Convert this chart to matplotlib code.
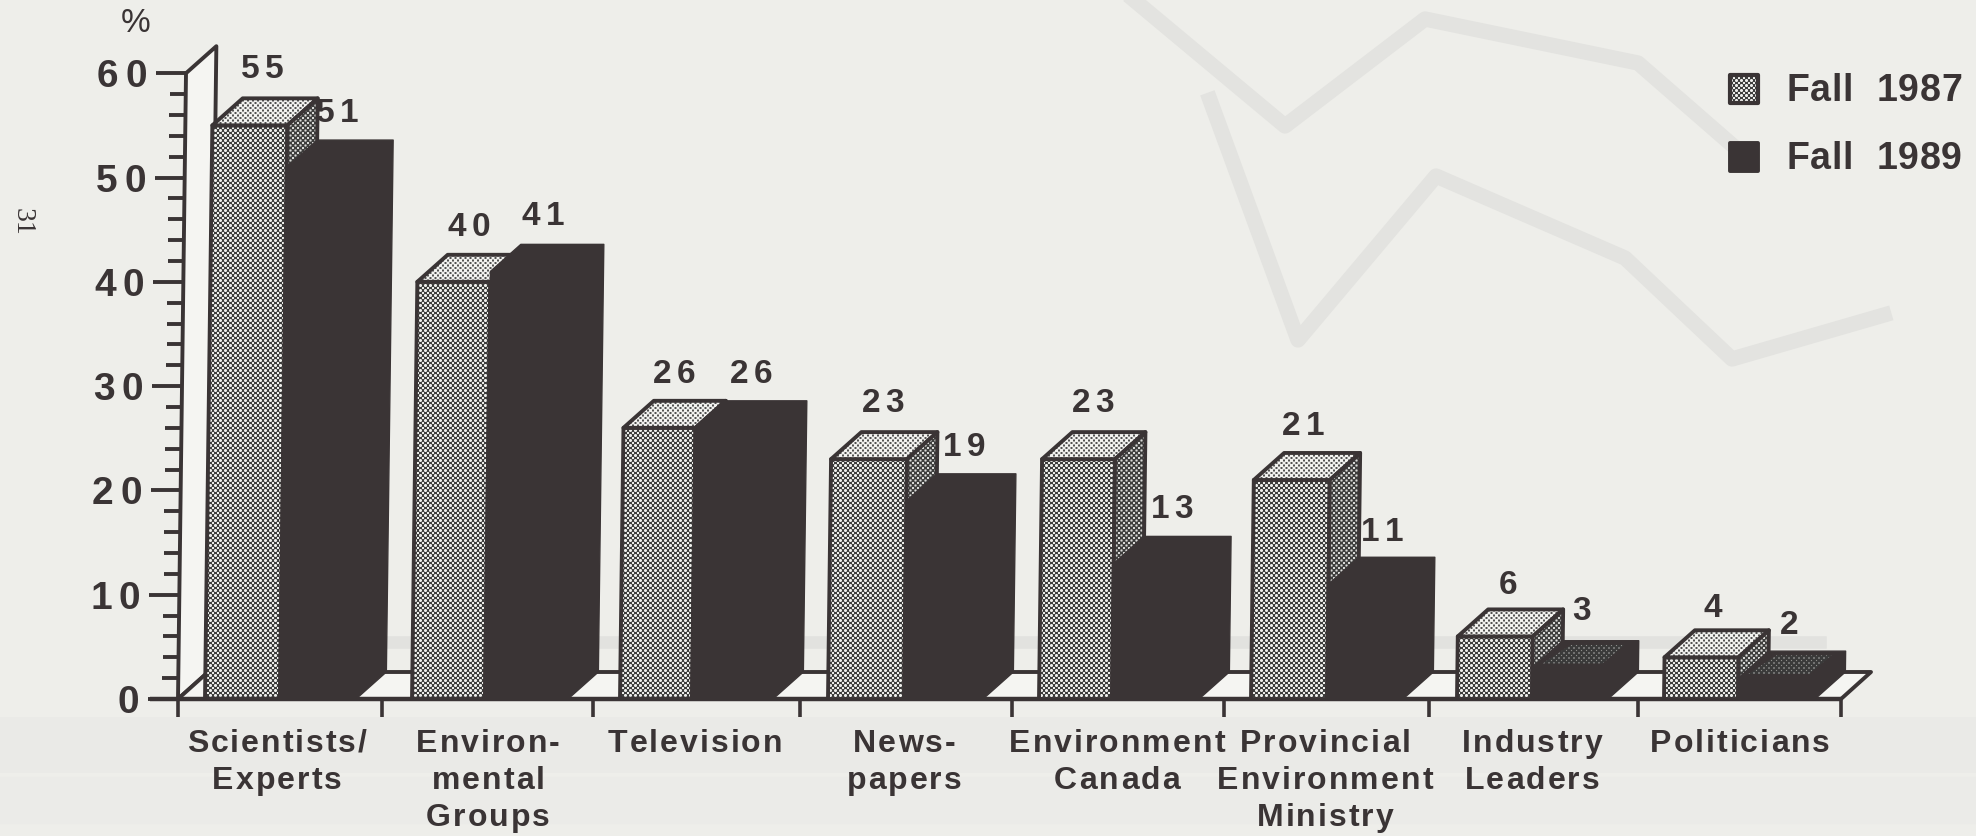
import numpy as np
import matplotlib
matplotlib.use('Agg')
import matplotlib.pyplot as plt
from matplotlib import font_manager
from matplotlib.font_manager import FontProperties
from matplotlib.ft2font import LoadFlags
from matplotlib.patches import Polygon
from matplotlib.text import Text
from matplotlib.transforms import IdentityTransform

# === data ===
categories = ['Scientists/\nExperts', 'Environ-\nmental\nGroups', 'Television', 'News-\npapers',
              'Environment\nCanada', 'Provincial\nEnvironment\nMinistry', 'Industry\nLeaders', 'Politicians']
fall_1987 = [55, 40, 26, 23, 23, 21, 6, 4]
fall_1989 = [51, 41, 26, 19, 13, 11, 3, 2]
y_ticks = [0, 10, 20, 30, 40, 50, 60]
legend_labels = ['Fall  1987', 'Fall  1989']

# === layout, in pixels of the scan ===
W, H = 1976, 836
BASE_Y = 699
PX_PER_UNIT = 10.43
SKEW = 0.1335          # the scan leans: px to the right per unit of height
DX, DY = 30, 27
group_left = [205, 412, 620, 828, 1039, 1251, 1457, 1664]
light_right = [280, 485, 692, 904, 1112, 1327, 1532, 1738]
dark_right = [386, 598, 803, 1013, 1229, 1433, 1638, 1845]
x_ticks = [178, 382, 593, 800, 1012, 1224, 1429, 1638, 1841]
label_x_87 = [262, 469, 674, 883, 1093, 1303, 1508, 1713]
label_base_87 = [78, 236, 383, 412, 412, 435, 594, 617]
label_x_89 = [337, 543, 751, 964, 1172, 1382, 1581, 1789]
label_base_89 = [122, 225, 383, 456, 518, 541, 620, 634]
cat_x = [277, 488, 695, 904, 1117, 1325, 1532, 1740]

PAPER = '#eeeeea'
WHITE = '#f5f5f2'
INK = '#3a3435'
GHOST = '#e3e3e0'
SANS = 'Liberation Sans'


def val(py):
    return (BASE_Y - py) / PX_PER_UNIT


def pts(px_list):
    # (x px at base, value) -> sheared data coords
    return [(x + SKEW * v, v) for x, v in px_list]


class TrackedText(Text):
    """Text drawn with letter spacing, like the wide typesetting in the scan."""
    def __init__(self, x, y, s, track=4, pitch=37, align='center', **kw):
        super().__init__(x, y, s, va='baseline', ha=align, **kw)
        self.track = track
        self.pitch = pitch
        self.align = align

    def _advance(self, ch):
        fp = self.get_fontproperties()
        ft = font_manager.get_font(font_manager.findfont(fp))
        ft.set_size(fp.get_size_in_points(), self.figure.dpi)
        glyph = ft.load_char(ord(ch), flags=LoadFlags.NO_HINTING)
        return glyph.linearHoriAdvance / 65536

    def draw(self, renderer):
        x0, y0 = self.get_transform().transform(self.get_position())
        for i, line in enumerate(self.get_text().split('\n')):
            adv = [self._advance(c) for c in line]
            total = sum(adv) + self.track * (len(line) - 1)
            x = x0 - total / 2 if self.align == 'center' else (x0 - total if self.align == 'right' else x0)
            for c, a in zip(line, adv):
                t = Text(x, y0 - i * self.pitch, c, color=self.get_color(), fontproperties=self.get_fontproperties(),
                         ha='left', va='baseline', transform=IdentityTransform())
                t.set_figure(self.figure)
                t.draw(renderer)
                x += a + self.track


def label(x_px, base_px, s, size, track=4, align='center', **kw):
    t = TrackedText(x_px, val(base_px), s, track=track, align=align, color=INK,
                    fontproperties=FontProperties(family=SANS, weight='bold', size=size), **kw)
    ax.add_artist(t)
    t.set_transform(ax.transData)
    t.set_zorder(50)
    return t


def halftone(lo, hi, c, period=5.0):
    yy, xx = np.mgrid[0:H, 0:W]
    v = np.cos(2 * np.pi * (xx + yy) / period) + np.cos(2 * np.pi * (xx - yy) / period)
    t = np.clip(v * 0.9 + c, 0, 1)
    g = lo + (hi - lo) * t
    return np.dstack([g, g, g * 0.99])


fig = plt.figure(figsize=(W / 100, H / 100), dpi=100, facecolor=PAPER)
ax = fig.add_axes([0, 0, 1, 1])
ax.axis('off')

tex_front = halftone(0.24, 0.93, 0.45)
tex_top = halftone(0.32, 0.95, 0.95)
tex_side = halftone(0.24, 0.85, 0.05)
tex_speck = halftone(0.23, 0.55, -0.5)

z = [10]


def patch(points, tex=None, face=INK, edge=INK, lw=2.8):
    z[0] += 1
    if tex is not None:
        im = ax.imshow(tex, extent=(0, W, val(H), val(0)), aspect='auto', interpolation='nearest',
                       origin='upper', zorder=z[0])
        clip = Polygon(points, closed=True, transform=ax.transData)
        im.set_clip_path(clip)
        z[0] += 1
        ax.add_patch(Polygon(points, closed=True, fill=False, edgecolor=edge, lw=lw, zorder=z[0], joinstyle='round'))
    else:
        ax.add_patch(Polygon(points, closed=True, facecolor=face, edgecolor=edge, lw=lw, zorder=z[0], joinstyle='round'))


def depth(x, v):
    return (x + DX, v + DY / PX_PER_UNIT)


# === show-through from the back of the page ===
ghost_a = [(1134, 0), (1285, 126), (1425, 19), (1638, 63), (1739, 151)]
ghost_b = [(1210, 100), (1298, 340), (1436, 176), (1625, 258), (1732, 359), (1884, 315)]
for g in (ghost_a, ghost_b):
    ax.plot([p[0] for p in g], [val(p[1]) for p in g], color=GHOST, lw=11, zorder=1, solid_joinstyle='round')
ax.plot([320, 1820], [val(642), val(642)], color='#e2e2df', lw=9, zorder=1)
ax.plot([0, W], [val(745), val(745)], color='#eaeae7', lw=40, zorder=1)
ax.plot([0, W], [val(800), val(800)], color='#ebebe8', lw=34, zorder=1)

# === wall and floor ===
xa = x_ticks[0]
patch(pts([(xa, 0), (xa, 60), depth(xa, 60), depth(xa, 0)]), face=WHITE)
xe = x_ticks[-1]
patch([(xa, 0), depth(xa, 0), depth(xe, 0), (xe, 0)], face=WHITE)

# y axis ticks
for v in range(0, 61, 2):
    major = v % 10 == 0
    x1 = xa + SKEW * v
    ax.plot([x1 - (30 if major else 16), x1], [v, v], color=INK, lw=2.8, zorder=5, solid_capstyle='butt')
for v in y_ticks:
    label(147 - 8 + SKEW * v, BASE_Y - PX_PER_UNIT * v + 14, str(v), 28, track=7, align='right')

# x axis
ax.plot([150, xe], [0, 0], color=INK, lw=3.2, zorder=30, solid_capstyle='butt')
for x in x_ticks:
    ax.plot([x, x], [0, val(717)], color=INK, lw=2.6, zorder=5, solid_capstyle='butt')

# === bars ===
for i in range(len(categories)):
    x0 = group_left[i]
    x1 = light_right[i]
    x2 = dark_right[i] - DX
    v1, v2 = fall_1987[i], fall_1989[i]
    # light bar
    patch(pts([(x0, 0), (x1, 0), (x1, v1), (x0, v1)]), tex=tex_front)
    patch(pts([(x0, v1), (x1, v1), depth(x1, v1), depth(x0, v1)]), tex=tex_top)
    patch(pts([(x1, 0), depth(x1, 0), depth(x1, v1), (x1, v1)]), tex=tex_side)
    # dark bar is one solid shape in the scan
    patch(pts([(x1, 0), (x2, 0), depth(x2, 0), depth(x2, v2), depth(x1, v2), (x1, v2)]), lw=1)
    if i >= 6:
        patch(pts([(x1 + 10, v2 + 0.4), (x2 - 6, v2 + 0.4), depth(x2 - 14, v2 - 0.4), depth(x1 + 8, v2 - 0.4)]),
              tex=tex_speck, edge='none', lw=0)
    label(label_x_87[i], label_base_87[i], str(v1), 24, track=5 if v1 >= 10 else 0)
    label(label_x_89[i], label_base_89[i], str(v2), 24, track=5 if v2 >= 10 else 0)
    label(cat_x[i], 752, categories[i], 23, track=2)

# === legend ===
legend_top = [75, 143]
for lab, top, face in zip(legend_labels, legend_top, ['tex', INK]):
    pl = [(1730, val(top)), (1758, val(top)), (1758, val(top + 28)), (1730, val(top + 28))]
    if face == 'tex':
        patch(pl, tex=tex_front, lw=3)
    else:
        patch(pl, face=face)
    label(1786, top + 26, lab, 27, track=0.8, align='left')

# sideways page number and % sign
ax.text(22, val(222), '31', rotation=-90, ha='center', va='center', family='Liberation Serif', size=20, color=INK)
ax.text(136, val(23), '%', ha='center', va='center', family=SANS, size=24, color=INK)

ax.set_xlim(0, W)
ax.set_ylim(val(H), val(0))
fig.savefig('out.png', dpi=100, facecolor=PAPER)
